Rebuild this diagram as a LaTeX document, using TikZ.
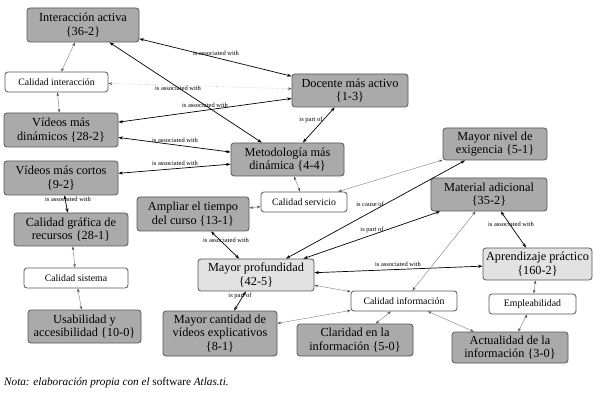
\documentclass[tikz,border=0pt]{standalone}
\usepackage{fontspec}
\setmainfont{Liberation Serif}
\usetikzlibrary{arrows.meta}
\definecolor{dkfill}{RGB}{170,170,170}
\definecolor{ltfill}{RGB}{226,226,226}
\definecolor{bord}{RGB}{85,85,85}
\definecolor{thinc}{RGB}{135,135,135}
\definecolor{thinh}{RGB}{80,80,80}
\begin{document}
\begin{tikzpicture}[x=1pt,y=-1pt,
 box/.style={draw=bord, line width=0.8pt, rounded corners=3pt, align=center, inner sep=1pt, font=\fontsize{12.3}{13.5}\selectfont},
 dk/.style={box, fill=dkfill},
 lt/.style={box, fill=ltfill},
 wh/.style={box, fill=white, font=\fontsize{9.8}{11}\selectfont},
 assoc/.style={draw=black, line width=0.7pt, {Stealth[length=4.5pt,width=3.2pt]}-{Stealth[length=4.5pt,width=3.2pt]}},
 weak/.style={draw=thinc, line width=0.45pt, {Stealth[length=3.8pt,width=2.6pt,color=thinh]}-{Stealth[length=3.8pt,width=2.6pt,color=thinh]}},
 lab/.style={font=\fontsize{6.5}{7}\selectfont, inner sep=0pt}
]
\useasboundingbox (0,0) rectangle (600,398);

\node[dk, minimum width=112pt, minimum height=34pt] (ia) at (83,25) {Interacción activa\\\{36-2\}};
\node[wh, minimum width=103pt, minimum height=20pt] (ci) at (56.5,82) {Calidad interacción};
\node[dk, minimum width=114pt, minimum height=34pt] (vmd) at (61,130) {Vídeos más\\dinámicos \{28-2\}};
\node[dk, minimum width=114pt, minimum height=34pt] (vmc) at (61,178) {Vídeos más cortos\\\{9-2\}};
\node[dk, minimum width=114pt, minimum height=33pt] (cg) at (71,229.5) {Calidad gráfica de\\recursos \{28-1\}};
\node[wh, minimum width=104pt, minimum height=20pt] (cs) at (76,278) {Calidad sistema};
\node[dk, minimum width=113pt, minimum height=33pt] (us) at (84.5,326.5) {Usabilidad y\\accesibilidad \{10-0\}};
\node[dk, minimum width=116pt, minimum height=33pt] (doc) at (350,90.5) {Docente más activo\\\{1-3\}};
\node[dk, minimum width=113pt, minimum height=33pt] (met) at (287.5,159.5) {Metodología más\\dinámica \{4-4\}};
\node[wh, minimum width=86pt, minimum height=20pt] (csv) at (304,202) {Calidad servicio};
\node[dk, minimum width=112pt, minimum height=34pt] (amp) at (193,214) {Ampliar el tiempo\\del curso \{13-1\}};
\node[lt, minimum width=116pt, minimum height=32pt] (mp) at (256,275) {Mayor profundidad\\\{42-5\}};
\node[dk, minimum width=114pt, minimum height=45pt] (mc) at (220,333.5) {Mayor cantidad de\\vídeos explicativos\\\{8-1\}};
\node[wh, minimum width=106pt, minimum height=20pt] (cinf) at (404,301) {Calidad información};
\node[dk, minimum width=116pt, minimum height=32pt] (cla) at (355,340) {Claridad en la\\información \{5-0\}};
\node[dk, minimum width=116pt, minimum height=31pt] (act) at (510,347.5) {Actualidad de la\\información \{3-0\}};
\node[dk, minimum width=104pt, minimum height=32pt] (mne) at (495,144) {Mayor nivel de\\exigencia \{5-1\}};
\node[dk, minimum width=116pt, minimum height=33pt] (mad) at (489,194.5) {Material adicional\\\{35-2\}};
\node[lt, minimum width=109pt, minimum height=32pt] (ap) at (537.5,264) {Aprendizaje práctico\\\{160-2\}};
\node[wh, minimum width=87pt, minimum height=20pt] (emp) at (532.5,304) {Empleabilidad};

\node[anchor=west, font=\fontsize{11.2}{12}\selectfont\itshape, inner sep=0pt] (nota) at (4,383) {Nota: elaboración propia con el {\upshape software} Atlas.ti.};

\draw[assoc] (ia) -- (doc);
\draw[weak] (ia) -- (ci);
\draw[weak, dotted] (ci) -- (doc);
\draw[weak] (ci) -- (vmd);
\draw[assoc] (vmd) -- (doc);
\draw[assoc] (ia) -- (met);
\draw[assoc] (vmd) -- (met);
\draw[assoc] (vmc) -- (met);
\draw[assoc] (met) -- (doc);
\draw[weak] (met) -- (csv);
\draw[weak] (csv) -- (amp);
\draw[weak] (csv) -- (mne);
\draw[assoc] (vmc) -- (cg);
\draw[weak] (cg) -- (cs);
\draw[weak] (cs) -- (us);
\draw[assoc] (amp) -- (mp);
\draw[assoc] (mp) -- (mne);
\draw[assoc] (mp) -- (mad);
\draw[assoc] (mp) -- (ap);
\draw[weak] (mp) -- (cinf);
\draw[assoc] (mp) -- (mc);
\draw[weak] (cinf) -- (mc);
\draw[weak] (cinf) -- (cla);
\draw[weak] (cinf) -- (act);
\draw[weak] (cinf) -- (mad);
\draw[assoc] (mad) -- (ap);
\draw[weak] (ap) -- (emp);
\draw[weak] (emp) -- (act);

\node[lab] (l1) at (216,53) {is associated with};
\node[lab] (l2) at (178,88) {is associated with};
\node[lab] (l3) at (205,105) {is associated with};
\node[lab] (l4) at (175,140) {is associated with};
\node[lab] (l5) at (175,163) {is associated with};
\node[lab] (l6) at (68,199) {is associated with};
\node[lab] (l7) at (311,120) {is part of};
\node[lab] (l8) at (226,240) {is associated with};
\node[lab] (l9) at (370,204) {is cause of};
\node[lab] (l10) at (372,230) {is part of};
\node[lab] (l11) at (398,264) {is associated with};
\node[lab] (l12) at (240,296) {is part of};
\node[lab] (l13) at (511,224) {is associated with};
\end{tikzpicture}
\end{document}
